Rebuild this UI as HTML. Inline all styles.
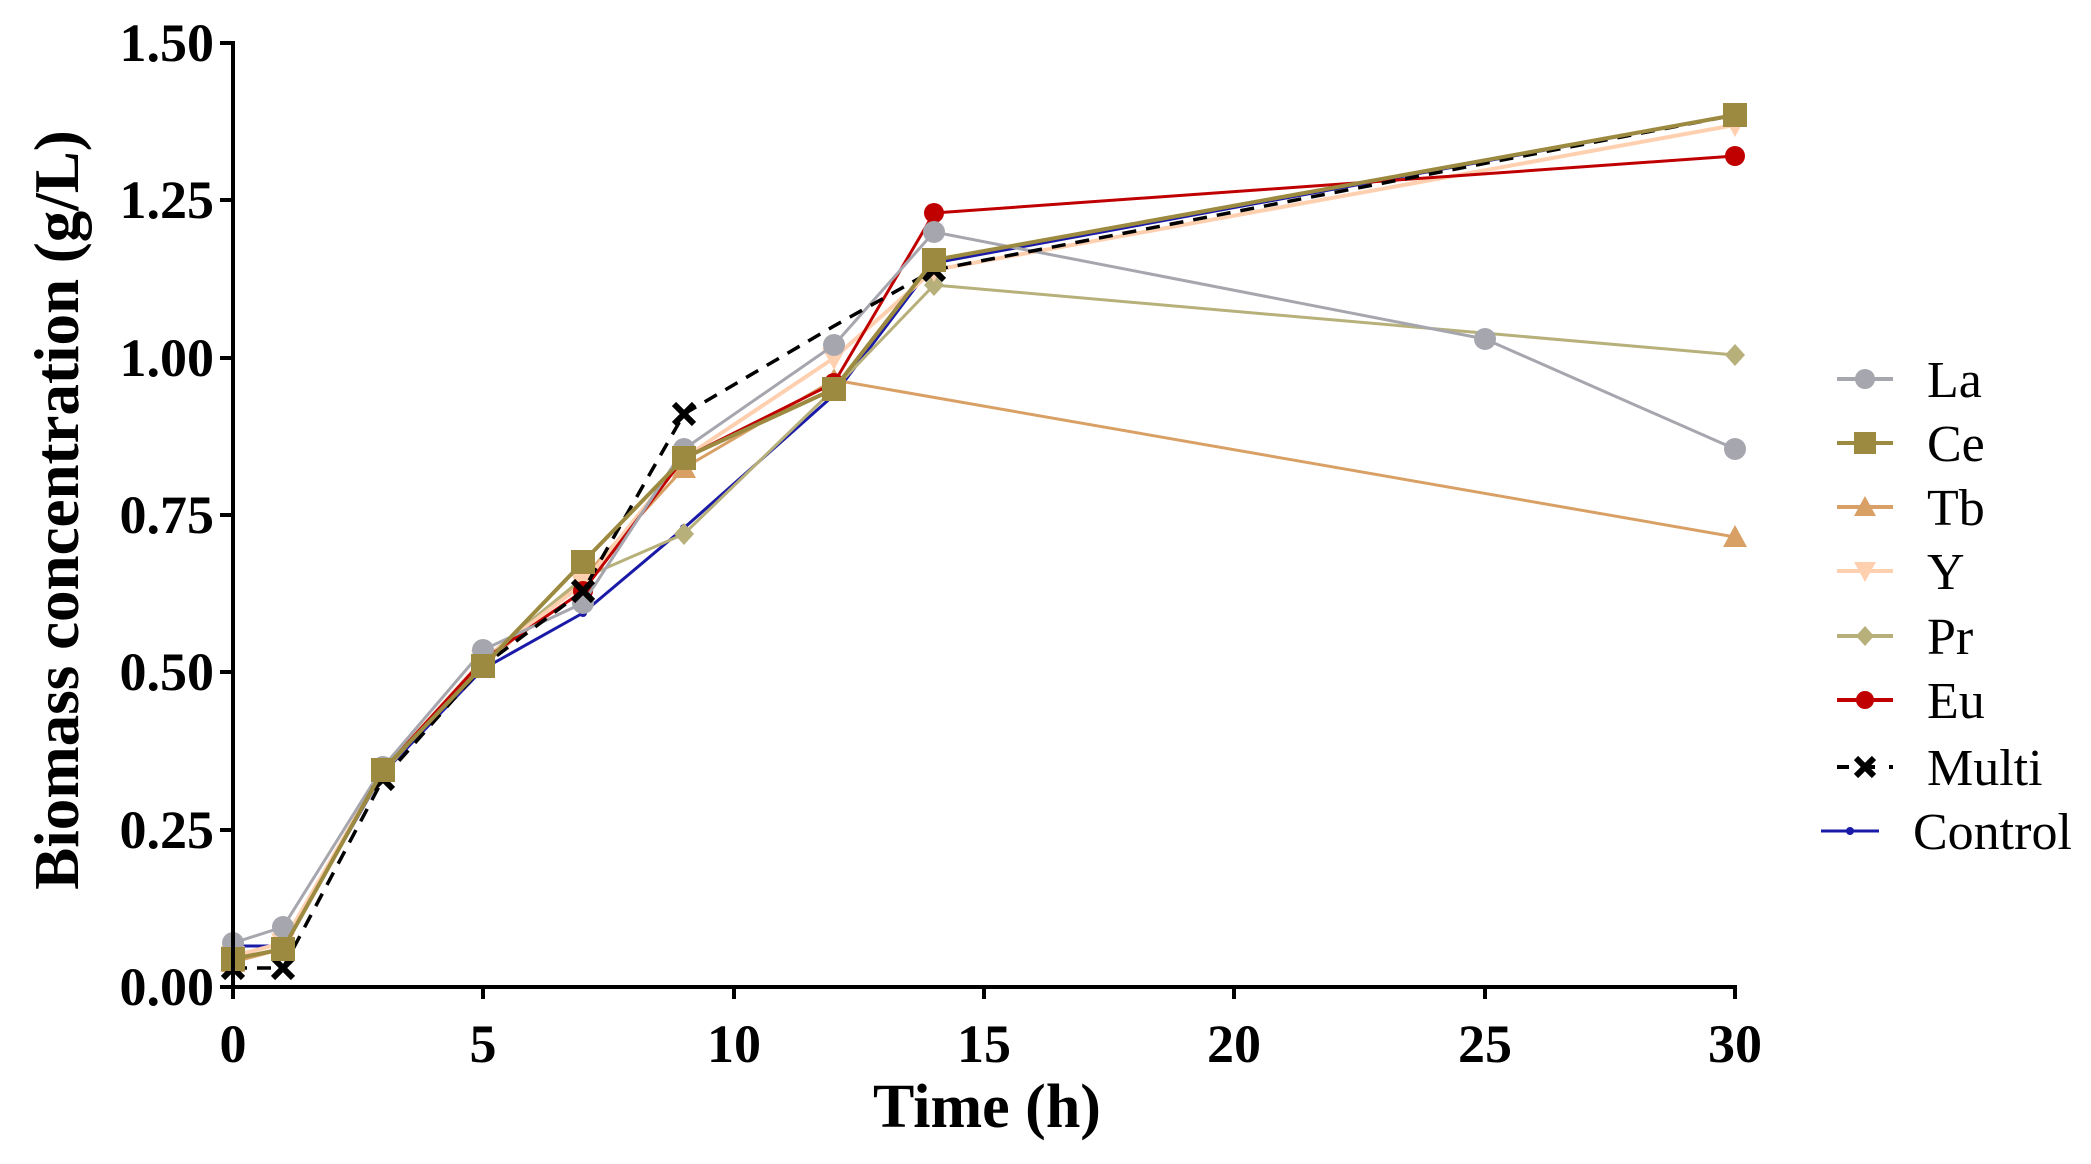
<!DOCTYPE html><html><head><style>body{margin:0;background:#fff}svg{display:block}</style></head><body>
<svg width="2091" height="1164" xmlns="http://www.w3.org/2000/svg" font-family="Liberation Serif, serif">
<defs>
<marker id="mLa" markerUnits="userSpaceOnUse" markerWidth="30" markerHeight="30" refX="15" refY="15" overflow="visible"><circle cx="15" cy="15" r="11" fill="#a6a6ae"/></marker>
<marker id="mEu" markerUnits="userSpaceOnUse" markerWidth="30" markerHeight="30" refX="15" refY="15" overflow="visible"><circle cx="15" cy="15" r="10" fill="#c00000"/></marker>
<marker id="mCe" markerUnits="userSpaceOnUse" markerWidth="30" markerHeight="30" refX="15" refY="15" overflow="visible"><rect x="3" y="3" width="24" height="24" fill="#9c8a40"/></marker>
<marker id="mTb" markerUnits="userSpaceOnUse" markerWidth="30" markerHeight="30" refX="15" refY="15" overflow="visible"><path d="M15 3L27 25H3Z" fill="#d9a066"/></marker>
<marker id="mY" markerUnits="userSpaceOnUse" markerWidth="30" markerHeight="30" refX="15" refY="15" overflow="visible"><path d="M15 27L27 5H3Z" fill="#ffd0b0"/></marker>
<marker id="mPr" markerUnits="userSpaceOnUse" markerWidth="30" markerHeight="30" refX="15" refY="15" overflow="visible"><path d="M15 4L25 15L15 26L5 15Z" fill="#b8b07a"/></marker>
<marker id="mMu" markerUnits="userSpaceOnUse" markerWidth="30" markerHeight="30" refX="15" refY="15" overflow="visible"><path d="M5 5L25 25M25 5L5 25" stroke="#000" stroke-width="6"/></marker>
<marker id="mCo" markerUnits="userSpaceOnUse" markerWidth="30" markerHeight="30" refX="15" refY="15" overflow="visible"><circle cx="15" cy="15" r="4" fill="#1a1aa8"/></marker>
</defs>
<g fill="none" stroke-linejoin="round">
<polyline stroke="#1a1aa8" stroke-width="3" marker-start="url(#mCo)" marker-mid="url(#mCo)" marker-end="url(#mCo)" points="233,946 283,946 383,773 483,669 583,613 684,528 834,395 934,263 1735,115"/>
<polyline stroke="#d9a066" stroke-width="3" marker-start="url(#mTb)" marker-mid="url(#mTb)" marker-end="url(#mTb)" points="233,962 283,949 383,770 483,666 583,578 684,468 834,380 1735,537"/>
<polyline stroke="#b8b07a" stroke-width="3" marker-start="url(#mPr)" marker-mid="url(#mPr)" marker-end="url(#mPr)" points="233,956 283,943 383,773 483,660 583,578 684,534 834,389 934,285 1735,355"/>
<polyline stroke="#ffd0b0" stroke-width="4" marker-start="url(#mY)" marker-mid="url(#mY)" marker-end="url(#mY)" points="233,956 283,943 383,770 483,660 583,584 684,458 834,358 934,270 1735,125"/>
<polyline stroke="#c00000" stroke-width="3" marker-start="url(#mEu)" marker-mid="url(#mEu)" marker-end="url(#mEu)" points="233,959 283,949 383,770 483,660 583,591 684,458 834,383 934,213 1735,156"/>
<polyline stroke="#a6a6ae" stroke-width="3" marker-start="url(#mLa)" marker-mid="url(#mLa)" marker-end="url(#mLa)" points="233,943 283,927 383,767 483,650 583,603 684,449 834,345 934,232 1485,339 1735,449"/>
<polyline stroke="#000" stroke-width="3.5" stroke-dasharray="14 10" marker-start="url(#mMu)" marker-mid="url(#mMu)" marker-end="url(#mMu)" points="233,968 283,968 383,779 483,666 583,591 684,414"/>
<polyline stroke="#000" stroke-width="3.5" stroke-dasharray="14 10" marker-end="url(#mMu)" points="684,414 834,326 934,270"/>
<polyline stroke="#000" stroke-width="3.5" stroke-dasharray="14 10" marker-end="url(#mMu)" points="934,270 1735,115"/>
<polyline stroke="#9c8a40" stroke-width="4" marker-start="url(#mCe)" marker-mid="url(#mCe)" marker-end="url(#mCe)" points="233,959 283,949 383,770 483,666 583,562 684,458 834,389 934,260 1735,115"/>
</g>
<g stroke="#000" stroke-width="4" fill="none">
<line x1="233" y1="41" x2="233" y2="989"/><line x1="231" y1="987" x2="1737" y2="987"/>
<path d="M220 43H233M220 200H233M220 358H233M220 515H233M220 672H233M220 830H233M220 987H233"/>
<path d="M233 987V999M483 987V999M734 987V999M984 987V999M1234 987V999M1485 987V999M1735 987V999"/>
</g>
<g font-weight="bold" font-size="54" text-anchor="end">
<text x="214" y="61">1.50</text><text x="214" y="218">1.25</text><text x="214" y="376">1.00</text><text x="214" y="533">0.75</text><text x="214" y="690">0.50</text><text x="214" y="848">0.25</text><text x="214" y="1005">0.00</text>
</g>
<g font-weight="bold" font-size="54" text-anchor="middle">
<text x="233" y="1062">0</text><text x="483" y="1062">5</text><text x="734" y="1062">10</text><text x="984" y="1062">15</text><text x="1234" y="1062">20</text><text x="1485" y="1062">25</text><text x="1735" y="1062">30</text>
<text x="987" y="1127" font-size="62">Time (h)</text>
<text transform="translate(78 510) rotate(-90)" font-size="63">Biomass concentration  (g/L)</text>
</g>
<g font-size="52">
<text x="1927" y="397">La</text><text x="1927" y="461">Ce</text><text x="1927" y="525">Tb</text><text x="1927" y="589">Y</text><text x="1927" y="654">Pr</text><text x="1927" y="718">Eu</text><text x="1927" y="785">Multi</text><text x="1913" y="849">Control</text>
</g>
<g>
<line x1="1837" y1="379" x2="1893" y2="379" stroke="#a6a6ae" stroke-width="4"/><circle cx="1865" cy="379" r="10" fill="#a6a6ae"/>
<line x1="1837" y1="443" x2="1893" y2="443" stroke="#9c8a40" stroke-width="4"/><rect x="1854" y="432" width="22" height="22" fill="#9c8a40"/>
<line x1="1837" y1="507" x2="1893" y2="507" stroke="#d9a066" stroke-width="4"/><path d="M1865 496L1876 516H1854Z" fill="#d9a066"/>
<line x1="1837" y1="571" x2="1893" y2="571" stroke="#ffd0b0" stroke-width="4"/><path d="M1865 582L1876 562H1854Z" fill="#ffd0b0"/>
<line x1="1837" y1="636" x2="1893" y2="636" stroke="#b8b07a" stroke-width="4"/><path d="M1865 626L1874 636L1865 646L1856 636Z" fill="#b8b07a"/>
<line x1="1837" y1="700" x2="1893" y2="700" stroke="#c00000" stroke-width="4"/><circle cx="1865" cy="700" r="9" fill="#c00000"/>
<line x1="1837" y1="767" x2="1893" y2="767" stroke="#000" stroke-width="4" stroke-dasharray="12 14"/><path d="M1856 758L1874 776M1874 758L1856 776" stroke="#000" stroke-width="6"/>
<line x1="1821" y1="831" x2="1879" y2="831" stroke="#1a1aa8" stroke-width="3"/><circle cx="1850" cy="831" r="4" fill="#1a1aa8"/>
</g>
</svg></body></html>
